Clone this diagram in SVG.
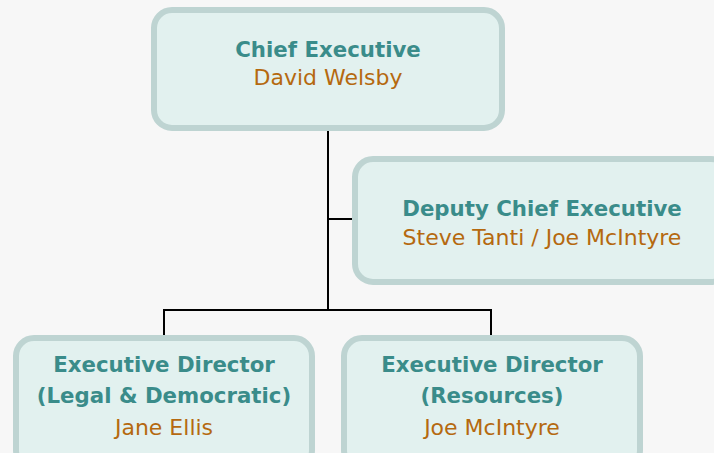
<svg xmlns="http://www.w3.org/2000/svg" width="714" height="453" viewBox="0 0 714 453">
<style>
.box{fill:#e2f1ef;stroke:#bed4d2;stroke-width:6}
.t{font-family:"DejaVu Sans",Verdana,sans-serif;font-size:21.3px;font-weight:bold;fill:#3a8c8a;text-anchor:middle}
.n{font-family:"DejaVu Sans",Verdana,sans-serif;font-size:22px;fill:#b5690f;text-anchor:middle}
.c{stroke:#000;stroke-width:2;fill:none}
</style>
<rect width="714" height="453" fill="#f7f7f7"/>
<g id="connectors">
<path class="c" d="M328 131V310M328 219H352M164 335V310H491V335"/>
</g>
<g id="chief">
<rect class="box" x="154" y="10" width="348" height="118" rx="18"/>
<text class="t" x="328" y="57">Chief Executive</text>
<text class="n" x="328" y="85">David Welsby</text>
</g>
<g id="deputy">
<rect class="box" x="355" y="159" width="374" height="123" rx="18"/>
<text class="t" x="542" y="216">Deputy Chief Executive</text>
<text class="n" x="542" y="245">Steve Tanti / Joe McIntyre</text>
</g>
<g id="legal">
<rect class="box" x="16" y="338" width="296" height="130" rx="18"/>
<text class="t" x="164" y="372">Executive Director</text>
<text class="t" x="164" y="403">(Legal &amp; Democratic)</text>
<text class="n" x="164" y="435">Jane Ellis</text>
</g>
<g id="resources">
<rect class="box" x="344" y="338" width="296" height="130" rx="18"/>
<text class="t" x="492" y="372">Executive Director</text>
<text class="t" x="492" y="403">(Resources)</text>
<text class="n" x="492" y="435">Joe McIntyre</text>
</g>
</svg>
